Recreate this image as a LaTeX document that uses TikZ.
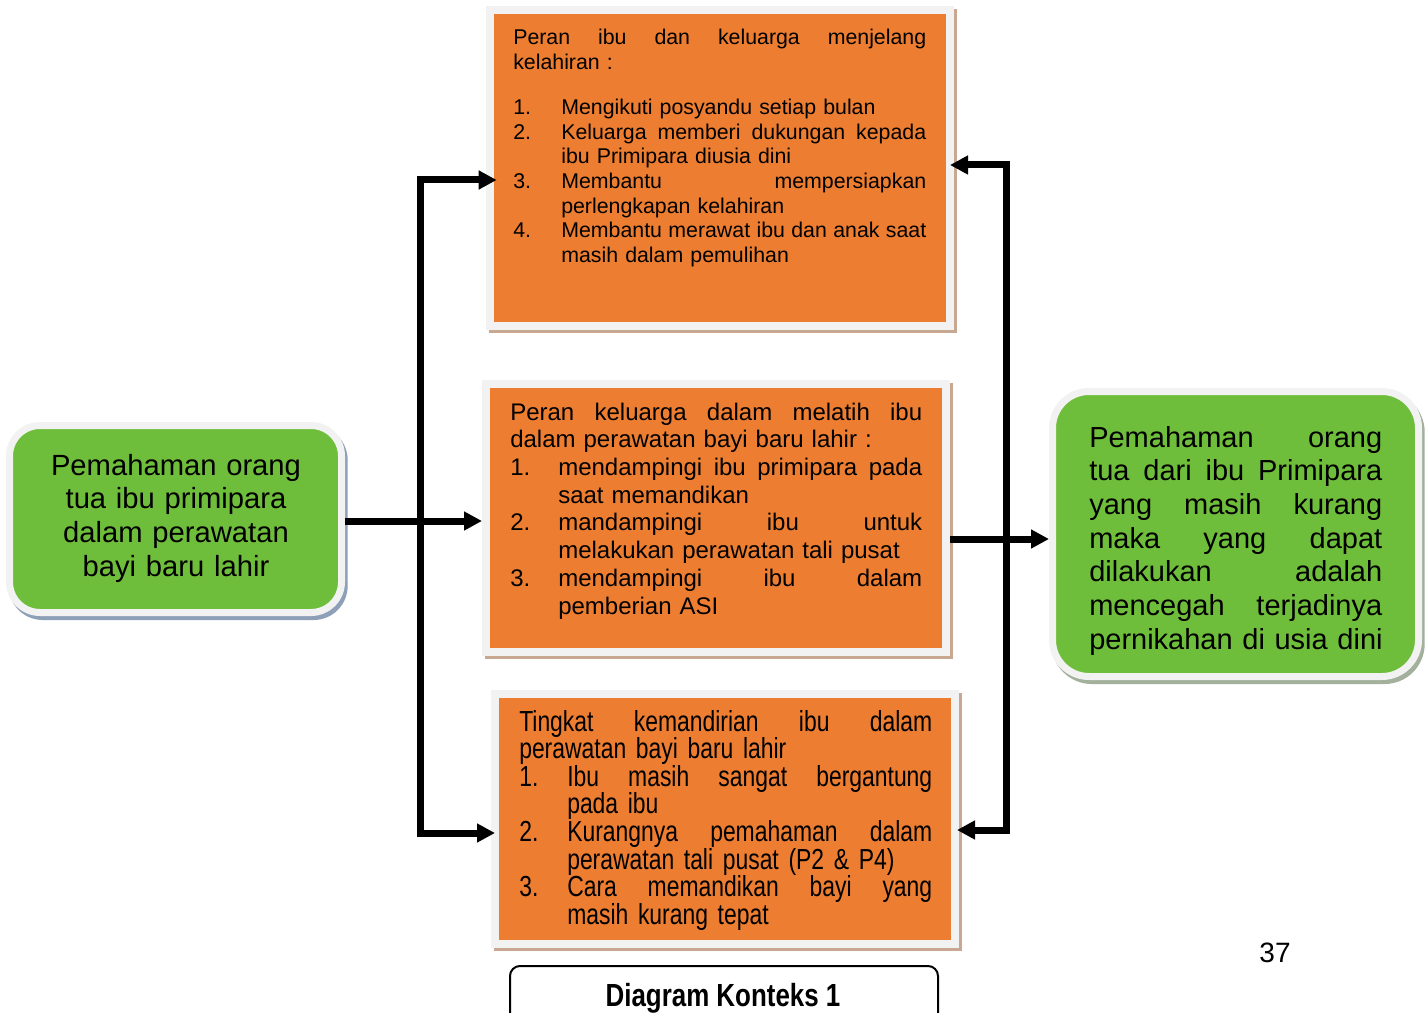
\documentclass[tikz,border=0pt]{standalone}
\usepackage{fontspec}
\setmainfont{Liberation Sans}
\newfontfamily\narrowfont[FakeStretch=0.79]{Liberation Sans}
\newfontfamily\capfont[FakeStretch=0.81]{Liberation Sans}
\usetikzlibrary{arrows.meta}
\definecolor{orangebox}{HTML}{ED7D31}
\definecolor{greenbox}{HTML}{6FBE3B}
\definecolor{framegray}{HTML}{F2F2F2}
\definecolor{tanshadow}{HTML}{C8A890}
\definecolor{blueshadow}{HTML}{8EA0B8}
\definecolor{greenshadow}{HTML}{A3B09C}
% justified line of a given width: spaces stretch equally
\newcommand{\jl}[2]{\leavevmode\hbox to #1{\spaceskip=0.278em plus 1fil\relax #2}}
\newcommand{\nm}[1]{\leavevmode\makebox[36pt][l]{#1}}
\newcommand{\ind}{\leavevmode\hspace*{36pt}}
\begin{document}
\begin{tikzpicture}[x=0.75pt,y=-0.75pt,
  obox/.style={fill=orangebox, draw=framegray, line width=6pt, inner sep=0pt,
    preaction={draw=tanshadow, fill=tanshadow, line width=6pt,
      transform canvas={shift={(2.25pt,-2.25pt)}}}},
  gbox/.style={fill=greenbox, draw=framegray, line width=5.25pt, inner sep=0pt,
    preaction={draw=#1, fill=#1, line width=5.25pt,
      transform canvas={shift={(2pt,-3pt)}}}},
  txt/.style={inner sep=0pt, align=left, anchor=base west, text=black},
  conn/.style={line width=5.25pt, -{Triangle[length=13.5pt,width=13.5pt]}},
  conn2/.style={line width=5.25pt, {Triangle[length=13.5pt,width=13.5pt]}-{Triangle[length=13.5pt,width=13.5pt]}}
]
\useasboundingbox (0,0) rectangle (1427,1013);
\fill[white] (0,0) rectangle (1427,1013);

% boxes
\node[obox, minimum width=345pt, minimum height=237pt] (T) at (720,168) {};
\node[obox, minimum width=345pt, minimum height=201pt] (M) at (716,518) {};
\node[obox, minimum width=345pt, minimum height=187.5pt] (B) at (725,819) {};
\node[gbox=blueshadow, rounded corners=22.9pt, minimum width=249pt, minimum height=140.25pt] (GL) at (175.5,519) {};
\node[gbox=greenshadow, rounded corners=27.4pt, minimum width=274.5pt, minimum height=213.75pt] (GR) at (1235.5,534) {};

% texts
\node[txt, text width=310pt, font={\parindent0pt\fontsize{16pt}{18.5pt}\selectfont}] (Tt) at (513,45) {%
\jl{309.75pt}{Peran ibu dan keluarga menjelang}\\
kelahiran :\\[15.2pt]
\nm{1.}Mengikuti posyandu setiap bulan\\
\nm{2.}\jl{273.75pt}{Keluarga memberi dukungan kepada}\\
\ind ibu Primipara diusia dini\\
\nm{3.}\jl{273.75pt}{Membantu mempersiapkan}\\
\ind perlengkapan kelahiran\\
\nm{4.}\jl{273.75pt}{Membantu merawat ibu dan anak saat}\\
\ind masih dalam pemulihan};

\node[txt, text width=310pt, font={\parindent0pt\fontsize{18pt}{20.8pt}\selectfont}] (Mt) at (510,420) {%
\jl{309pt}{Peran keluarga dalam melatih ibu}\\
dalam perawatan bayi baru lahir :\\
\nm{1.}\jl{273pt}{mendampingi ibu primipara pada}\\
\ind saat memandikan\\
\nm{2.}\jl{273pt}{mandampingi ibu untuk}\\
\ind melakukan perawatan tali pusat\\
\nm{3.}\jl{273pt}{mendampingi ibu dalam}\\
\ind pemberian ASI};

\node[txt, text width=310pt, font={\parindent0pt\narrowfont\fontsize{21.75pt}{20.7pt}\selectfont\lineskiplimit=-20pt}] (Bt) at (519,731) {%
\jl{309.75pt}{Tingkat kemandirian ibu dalam}\\
perawatan bayi baru lahir\\
\nm{1.}\jl{273.75pt}{Ibu masih sangat bergantung}\\
\ind pada ibu\\
\nm{2.}\jl{273.75pt}{Kurangnya pemahaman dalam}\\
\ind perawatan tali pusat (P2 \& P4)\\
\nm{3.}\jl{273.75pt}{Cara memandikan bayi yang}\\
\ind masih kurang tepat};

\node[inner sep=0pt, align=center, anchor=base, text width=240pt, font={\parindent0pt\fontsize{21.9pt}{25.25pt}\selectfont}] (GLt) at (176,475) {%
Pemahaman orang\\tua ibu primipara\\dalam perawatan\\bayi baru lahir};

\node[txt, text width=225pt, font={\parindent0pt\fontsize{21.75pt}{25.25pt}\selectfont}] (GRt) at (1089,447) {%
\jl{219.75pt}{Pemahaman orang}\\
\jl{219.75pt}{tua dari ibu Primipara}\\
\jl{219.75pt}{yang masih kurang}\\
\jl{219.75pt}{maka yang dapat}\\
\jl{219.75pt}{dilakukan adalah}\\
\jl{219.75pt}{mencegah terjadinya}\\
pernikahan di usia dini};

\node[inner sep=0pt, anchor=base, font={\fontsize{21pt}{25pt}\selectfont}] (pg) at (1275,962) {37};

% caption
\coordinate (cbl) at (510,1018);
\coordinate (ctl) at (510,966);
\coordinate (ctr) at (938,966);
\coordinate (cbr) at (938,1018);
\draw[line width=1.5pt, rounded corners=7.5pt] (cbl) -- (ctl) -- (ctr) -- (cbr);
\node[inner sep=0pt, anchor=base, font={\capfont\bfseries\fontsize{24pt}{26pt}\selectfont}] (cap) at (723,1006) {Diagram Konteks 1};

% connectors
\coordinate (lvt) at (420,180);
\coordinate (lvb) at (420,833);
\coordinate (rvt) at (1006,165);
\coordinate (rvb) at (1006,830);
\draw[conn2, shorten <=-8pt, shorten >=-3pt] (T.west |- lvt) -- (lvt) -- (lvb) -- (B.west |- lvb);
\draw[conn2, shorten <=-3pt, shorten >=-1.5pt] (T.east |- rvt) -- (rvt) -- (rvb) -- (B.east |- rvb);
\draw[conn] ([yshift=-1.5pt]GL.east) coordinate (gs) -- (gs -| M.west);
\draw[conn] ([yshift=-15.75pt]M.east) coordinate (ms) -- (ms -| GR.west);
\end{tikzpicture}
\end{document}
